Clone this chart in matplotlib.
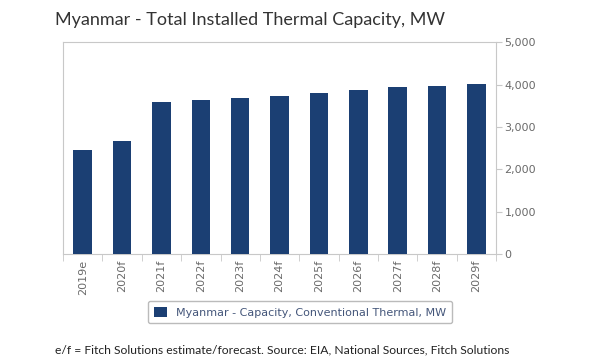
import matplotlib.pyplot as plt
import numpy as np

years = ['2019e', '2020f', '2021f', '2022f', '2023f', '2024f',
         '2025f', '2026f', '2027f', '2028f', '2029f']
capacity = [2460, 2680, 3590, 3635, 3680, 3730, 3810, 3880, 3950, 3975, 4005]

bar_color = '#1b3f73'
grid_gray = '#c8c8c8'
text_gray = '#6a6a6a'

fig = plt.figure(figsize=(6, 3.6), dpi=100)
ax = fig.add_axes([0.105, 0.294, 0.722, 0.589])

x = np.arange(len(years))
ax.bar(x, capacity, width=0.47, color=bar_color, zorder=3, label='Myanmar - Capacity, Conventional Thermal, MW')

ax.set_xlim(-0.5, len(years) - 0.5)
ax.set_ylim(0, 5000)
ax.yaxis.tick_right()
ax.set_yticks(range(0, 5001, 1000))
ax.set_yticklabels([f'{v:,}' for v in range(0, 5001, 1000)])
ax.tick_params(axis='y', colors=grid_gray, labelcolor=text_gray, labelsize=8, length=4, pad=2)

# category labels at centres, tick marks at boundaries
ax.set_xticks(x)
ax.set_xticklabels(years, rotation=90, fontsize=8, color=text_gray)
ax.tick_params(axis='x', length=0, pad=4)
ax.set_xticks(np.arange(-0.5, len(years)), minor=True)
ax.tick_params(axis='x', which='minor', length=5, color=grid_gray)

for side in ['left', 'top', 'right', 'bottom']:
    ax.spines[side].set_color(grid_gray)
    ax.spines[side].set_linewidth(0.8)

fig.text(0.092, 0.945, 'Myanmar - Total Installed Thermal Capacity, MW',
         fontsize=13, family='Lato', color='#333333', va='center')

leg = fig.legend(loc='center', bbox_to_anchor=(0.5, 0.133), frameon=True, fontsize=8,
                 handlelength=1.2, handleheight=1.0, fancybox=True, edgecolor='#aaaaaa',
                 borderpad=0.5)
for t in leg.get_texts():
    t.set_color('#44567a')

fig.text(0.092, 0.028, 'e/f = Fitch Solutions estimate/forecast. Source: EIA, National Sources, Fitch Solutions',
         fontsize=8.7, family='Lato', color='#222222', va='center')

fig.savefig('out.png', dpi=100)
